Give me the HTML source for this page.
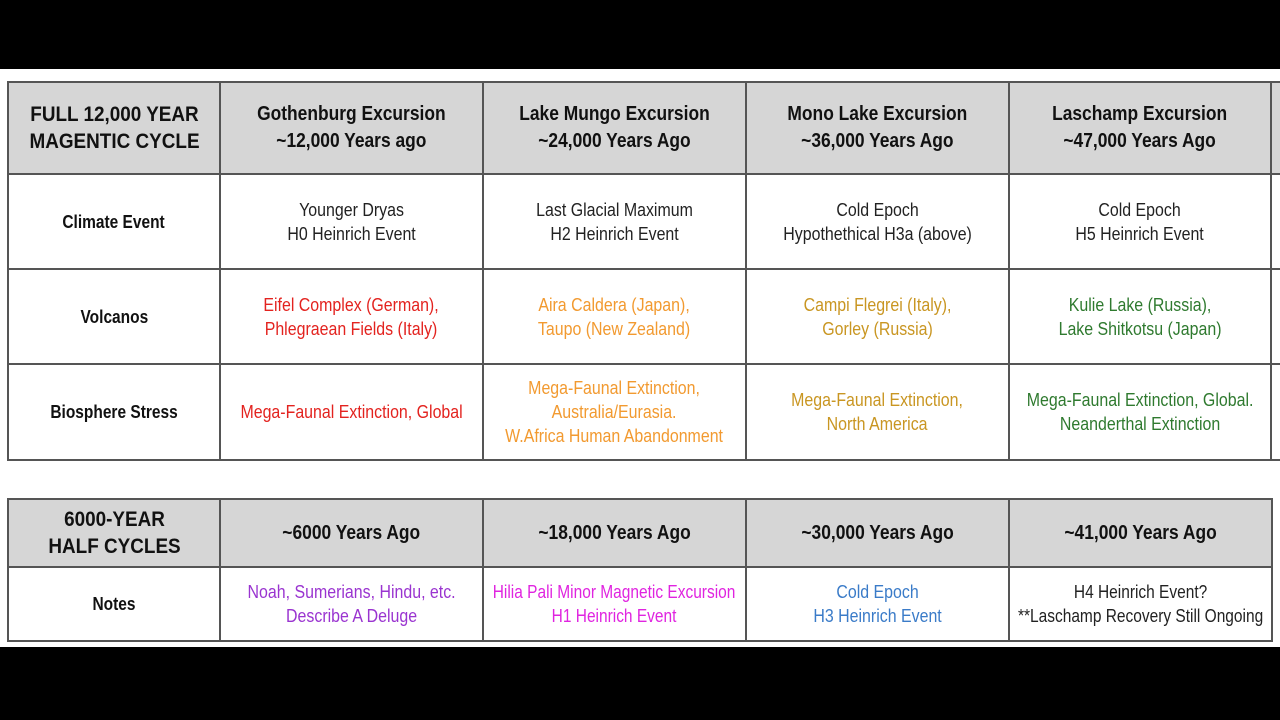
<!DOCTYPE html>
<html><head><meta charset="utf-8"><style>
body{margin:0;width:1280px;height:720px;background:#000;position:relative;overflow:hidden;font-family:"Liberation Sans",Arial,sans-serif;}
.w{position:absolute;left:0;top:69px;width:1280px;height:578px;background:#fff;}
table{position:absolute;border-collapse:collapse;table-layout:fixed;}
td{border:2px solid #555;text-align:center;vertical-align:middle;padding:0;font-size:18px;color:#222;line-height:24px;white-space:nowrap;overflow:visible}
td span{display:inline-block;margin:0 -80px;transform:scaleX(0.885);transform-origin:center}
td.h{background:#d6d6d6;font-weight:bold;font-size:20px;color:#111;line-height:27px}
td.h span{transform:scaleX(0.87)}
td.h.f span{transform:scaleX(0.9)}
td.l{font-weight:bold;font-size:18px;color:#111}
td.l span{transform:scaleX(0.86)}
td span.n{transform:scaleX(0.86)}
.r{color:#e3231f}.o{color:#f29a30}.g{color:#c99622}.gr{color:#2f7a2f}.p{color:#9a34d0}.m{color:#e024e0}.b{color:#3a7bc8}
</style></head><body>
<div class="w"></div>
<table style="left:7px;top:81px;width:1290px">
<colgroup><col style="width:212px"><col style="width:263px"><col style="width:263px"><col style="width:263px"><col style="width:262px"><col style="width:27px"></colgroup>
<tr style="height:92px"><td class="h f" style="font-size:21px"><span>FULL 12,000 YEAR<br>MAGENTIC CYCLE</span></td><td class="h"><span>Gothenburg Excursion<br>~12,000 Years ago</span></td><td class="h"><span>Lake Mungo Excursion<br>~24,000 Years Ago</span></td><td class="h"><span>Mono Lake Excursion<br>~36,000 Years Ago</span></td><td class="h"><span>Laschamp Excursion<br>~47,000 Years Ago</span></td><td class="h"></td></tr>
<tr style="height:95px"><td class="l"><span>Climate Event</span></td><td><span>Younger Dryas<br>H0 Heinrich Event</span></td><td><span>Last Glacial Maximum<br>H2 Heinrich Event</span></td><td><span>Cold Epoch<br>Hypothethical H3a (above)</span></td><td><span>Cold Epoch<br>H5 Heinrich Event</span></td><td></td></tr>
<tr style="height:95px"><td class="l"><span>Volcanos</span></td><td class="r"><span>Eifel Complex (German),<br>Phlegraean Fields (Italy)</span></td><td class="o"><span>Aira Caldera (Japan),<br>Taupo (New Zealand)</span></td><td class="g"><span>Campi Flegrei (Italy),<br>Gorley (Russia)</span></td><td class="gr"><span>Kulie Lake (Russia),<br>Lake Shitkotsu (Japan)</span></td><td></td></tr>
<tr style="height:96px"><td class="l"><span>Biosphere Stress</span></td><td class="r"><span>Mega-Faunal Extinction, Global</span></td><td class="o"><span>Mega-Faunal Extinction,<br>Australia/Eurasia.<br>W.Africa Human Abandonment</span></td><td class="g"><span>Mega-Faunal Extinction,<br>North America</span></td><td class="gr"><span>Mega-Faunal Extinction, Global.<br>Neanderthal Extinction</span></td><td></td></tr>
</table>
<table style="left:7px;top:498px;width:1264px">
<colgroup><col style="width:212px"><col style="width:263px"><col style="width:263px"><col style="width:263px"><col style="width:263px"></colgroup>
<tr style="height:68px"><td class="h f" style="font-size:21px"><span>6000-YEAR<br>HALF CYCLES</span></td><td class="h"><span>~6000 Years Ago</span></td><td class="h"><span>~18,000 Years Ago</span></td><td class="h"><span>~30,000 Years Ago</span></td><td class="h"><span>~41,000 Years Ago</span></td></tr>
<tr style="height:74px"><td class="l"><span>Notes</span></td><td class="p"><span>Noah, Sumerians, Hindu, etc.<br>Describe A Deluge</span></td><td class="m"><span class="n">Hilia Pali Minor Magnetic Excursion<br>H1 Heinrich Event</span></td><td class="b"><span>Cold Epoch<br>H3 Heinrich Event</span></td><td><span class="n">H4 Heinrich Event?<br>**Laschamp Recovery Still Ongoing</span></td></tr>
</table>
</body></html>
